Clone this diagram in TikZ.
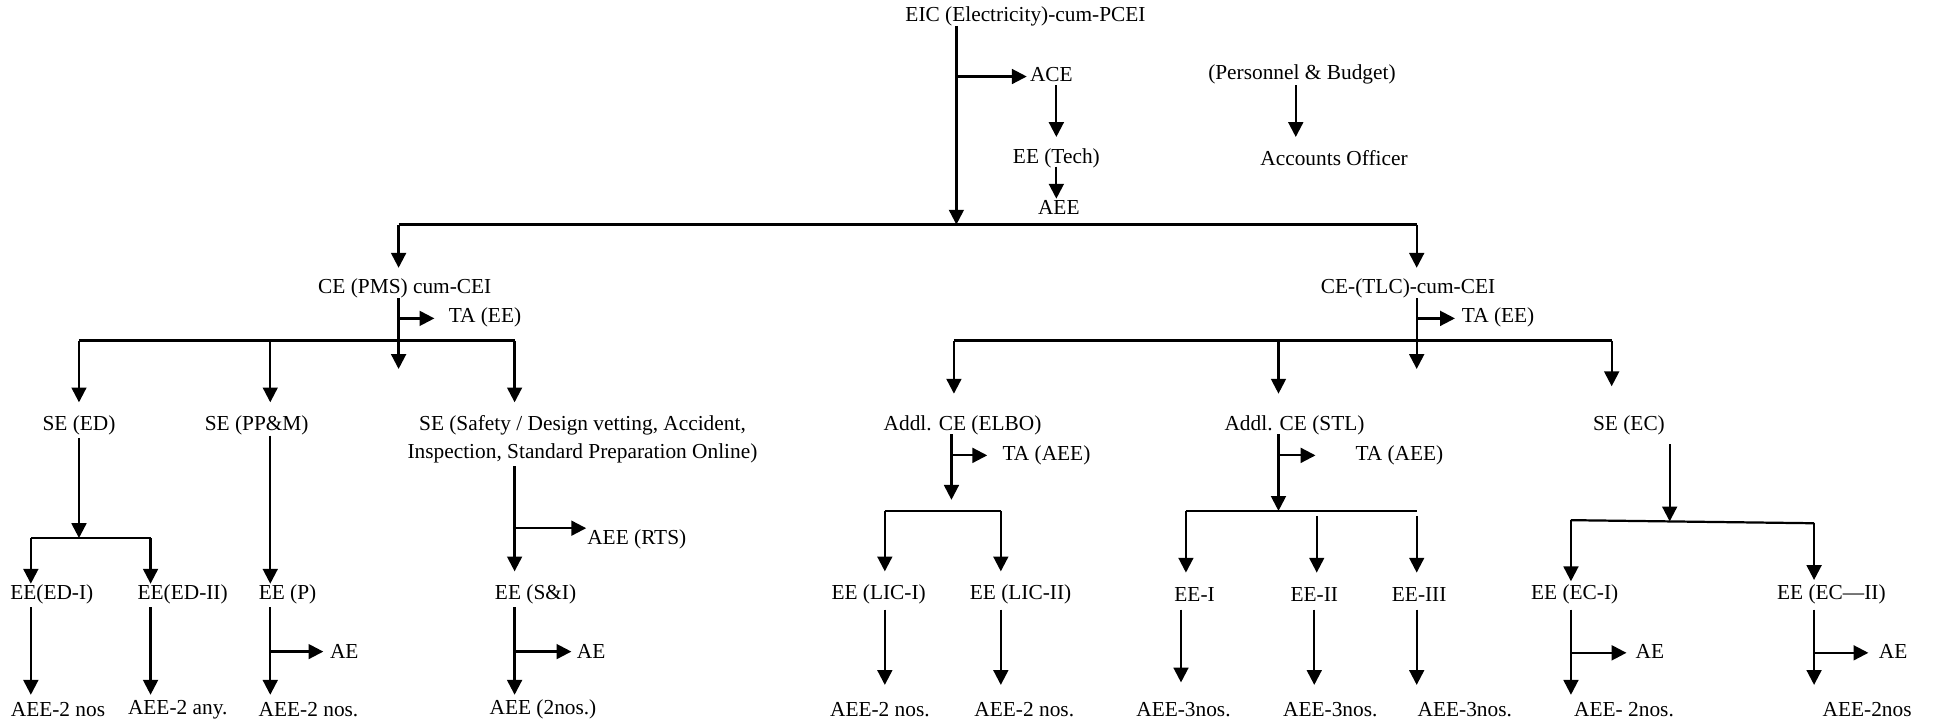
\documentclass[tikz,border=0pt]{standalone}
\usepackage{fontspec}
\setmainfont{Liberation Serif}
\usetikzlibrary{arrows.meta}
\begin{document}
\begin{tikzpicture}[x=1pt,y=-1pt,
  lbl/.style={inner sep=0pt,outer sep=0pt,anchor=center,font=\fontsize{17.3}{23}\selectfont},
  ln/.style={line width=1.8pt},
  arr/.style={line width=1.8pt,-{Triangle[length=12pt,width=12pt]}}]
\useasboundingbox[fill=white] (0,0) rectangle (1568,584);
% ---------- nodes ----------
\node[lbl] (eic) at (831,13) {EIC (Electricity)-cum-PCEI};
\node[lbl] (ace) at (852,60) {ACE};
\node[lbl] (eetech) at (856,128) {EE (Tech)};
\node[lbl] (aeetop) at (858,168) {AEE};
\node[lbl] (pb) at (1055,60) {(Personnel \& Budget)};
\node[lbl] (ao) at (1081,128) {Accounts Officer};
\node[lbl] (cepms) at (328,234) {CE (PMS) cum-CEI};
\node[lbl] (tal) at (393,257) {TA (EE)};
\node[lbl] (cetlc) at (1141,234) {CE-(TLC)-cum-CEI};
\node[lbl] (tar) at (1214,257) {TA (EE)};
\node[lbl] (seed) at (64,345) {SE (ED)};
\node[lbl] (seppm) at (208,345) {SE (PP\&M)};
\node[lbl,align=center] (sesafe) at (472,356) {SE (Safety / Design vetting, Accident,\\Inspection, Standard Preparation Online)};
\node[lbl] (elbo) at (780,345) {Addl. CE (ELBO)};
\node[lbl] (stl) at (1049,345) {Addl. CE (STL)};
\node[lbl] (seec) at (1320,345) {SE (EC)};
\node[lbl] (taelbo) at (848,369) {TA (AEE)};
\node[lbl] (tastl) at (1134,369) {TA (AEE)};
\node[lbl] (rts) at (516,437) {AEE (RTS)};
\node[lbl] (eed1) at (42,482) {EE(ED-I)};
\node[lbl] (eed2) at (148,482) {EE(ED-II)};
\node[lbl] (eep) at (233,482) {EE (P)};
\node[lbl] (eesi) at (434,482) {EE (S\&I)};
\node[lbl] (lic1) at (712,482) {EE (LIC-I)};
\node[lbl] (lic2) at (827,482) {EE (LIC-II)};
\node[lbl] (ee1) at (968,482) {EE-I};
\node[lbl] (ee2) at (1065,482) {EE-II};
\node[lbl] (ee3) at (1150,482) {EE-III};
\node[lbl] (ec1) at (1276,482) {EE (EC-I)};
\node[lbl] (ec2) at (1484,482) {EE (EC—II)};
\node[lbl] (aep) at (279,528) {AE};
\node[lbl] (aesi) at (479,528) {AE};
\node[lbl] (aeec1) at (1337,528) {AE};
\node[lbl] (aeec2) at (1534,528) {AE};
\node[lbl] (b1) at (47,575) {AEE-2 nos};
\node[lbl] (b2) at (144,575) {AEE-2 any.};
\node[lbl] (b3) at (250,575) {AEE-2 nos.};
\node[lbl] (b4) at (440,575) {AEE (2nos.)};
\node[lbl] (b5) at (713,575) {AEE-2 nos.};
\node[lbl] (b6) at (830,575) {AEE-2 nos.};
\node[lbl] (b7) at (959,575) {AEE-3nos.};
\node[lbl] (b8) at (1078,575) {AEE-3nos.};
\node[lbl] (b9) at (1187,575) {AEE-3nos.};
\node[lbl] (b10) at (1316,575) {AEE- 2nos.};
\node[lbl] (b11) at (1513,575) {AEE-2nos};
% ---------- junction coordinates ----------
\coordinate (hT1) at (323,182);
\coordinate (hT2) at (775,182);
\coordinate (hT3) at (1148,182);
\coordinate (jace) at (775,62);
\coordinate (hL1) at (64,276);
\coordinate (hL2) at (219,276);
\coordinate (hL4) at (417,276);
\coordinate (hR1) at (773,276);
\coordinate (hR2) at (1036,276);
\coordinate (hR4) at (1306,276);
\coordinate (hED1) at (25,436);
\coordinate (hED2) at (122,436);
\coordinate (hE1) at (717,414);
\coordinate (hE2) at (811,414);
\coordinate (hS1) at (961,414);
\coordinate (hS3) at (1148,414);
\coordinate (hC1) at (1273,421.5);
\coordinate (hC2) at (1470,424);
% ---------- top ----------
\draw[arr] (eic.south -| hT2) -- (hT2);
\draw[arr] (jace) -- (832,62);
\draw[arr] (856,69) -- (856,111);
\draw[arr] (856,135) -- (856,161);
\draw[arr] (1050,69) -- (1050,111);
\draw[ln] (hT1) -- (hT3);
\draw[arr] (hT1) -- (323,217);
\draw[arr] (hT3) -- (1148,217);
% ---------- CE (PMS) ----------
\draw[arr] (cepms.south -| hT1) -- (323,299);
\draw[arr] (323,258) -- (352,258);
\draw[ln] (hL1) -- (hL4);
\draw[arr] (hL1) -- (64,326);
\draw[arr] (hL2) -- (219,326);
\draw[arr] (hL4) -- (417,326);
% SE (ED)
\draw[arr] (seed.south) ++(0,2) -- (64,436);
\draw[ln] (hED1) -- (hED2);
\draw[arr] (hED1) -- (25,473);
\draw[arr] (hED2) -- (122,473);
\draw[arr] (25,492) -- (25,563);
\draw[arr] (122,492) -- (122,563);
% SE (PP&M)
\draw[arr] (219,353) -- (219,473);
\draw[arr] (219,492) -- (219,563);
\draw[arr] (219,528) -- (262,528);
% SE (Safety)
\draw[arr] (417,378) -- (417,463);
\draw[arr] (417,428) -- (475,428);
\draw[arr] (417,492) -- (417,563);
\draw[arr] (417,528) -- (463,528);
% ---------- CE (TLC) ----------
\draw[arr] (cetlc.south -| hT3) -- (1148,299);
\draw[arr] (1148,258) -- (1179,258);
\draw[ln] (hR1) -- (hR4);
\draw[arr] (hR1) -- (773,319);
\draw[arr] (hR2) -- (1036,319);
\draw[arr] (hR4) -- (1306,313);
% ELBO
\draw[arr] (771,352) -- (771,405);
\draw[arr] (771,369) -- (800,369);
\draw[ln] (hE1) -- (hE2);
\draw[arr] (hE1) -- (717,463);
\draw[arr] (hE2) -- (811,463);
\draw[arr] (717,494) -- (717,555);
\draw[arr] (811,494) -- (811,555);
% STL
\draw[arr] (1036,352) -- (1036,414);
\draw[arr] (1036,369) -- (1066,369);
\draw[ln] (hS1) -- (hS3);
\draw[arr] (hS1) -- (961,464);
\draw[arr] (1067,418) -- (1067,464);
\draw[arr] (1148,418) -- (1148,464);
\draw[arr] (957,494) -- (957,553);
\draw[arr] (1065,494) -- (1065,555);
\draw[arr] (1148,494) -- (1148,555);
% SE (EC)
\draw[arr] (1353,360) -- (1353,422.5);
\draw[ln] (hC1) -- (hC2);
\draw[arr] (hC1) -- (1273,471);
\draw[arr] (hC2) -- (1470,470);
\draw[arr] (1273,494) -- (1273,563);
\draw[arr] (1273,529) -- (1318,529);
\draw[arr] (1470,494) -- (1470,555);
\draw[arr] (1470,529) -- (1514,529);
\end{tikzpicture}
\end{document}
